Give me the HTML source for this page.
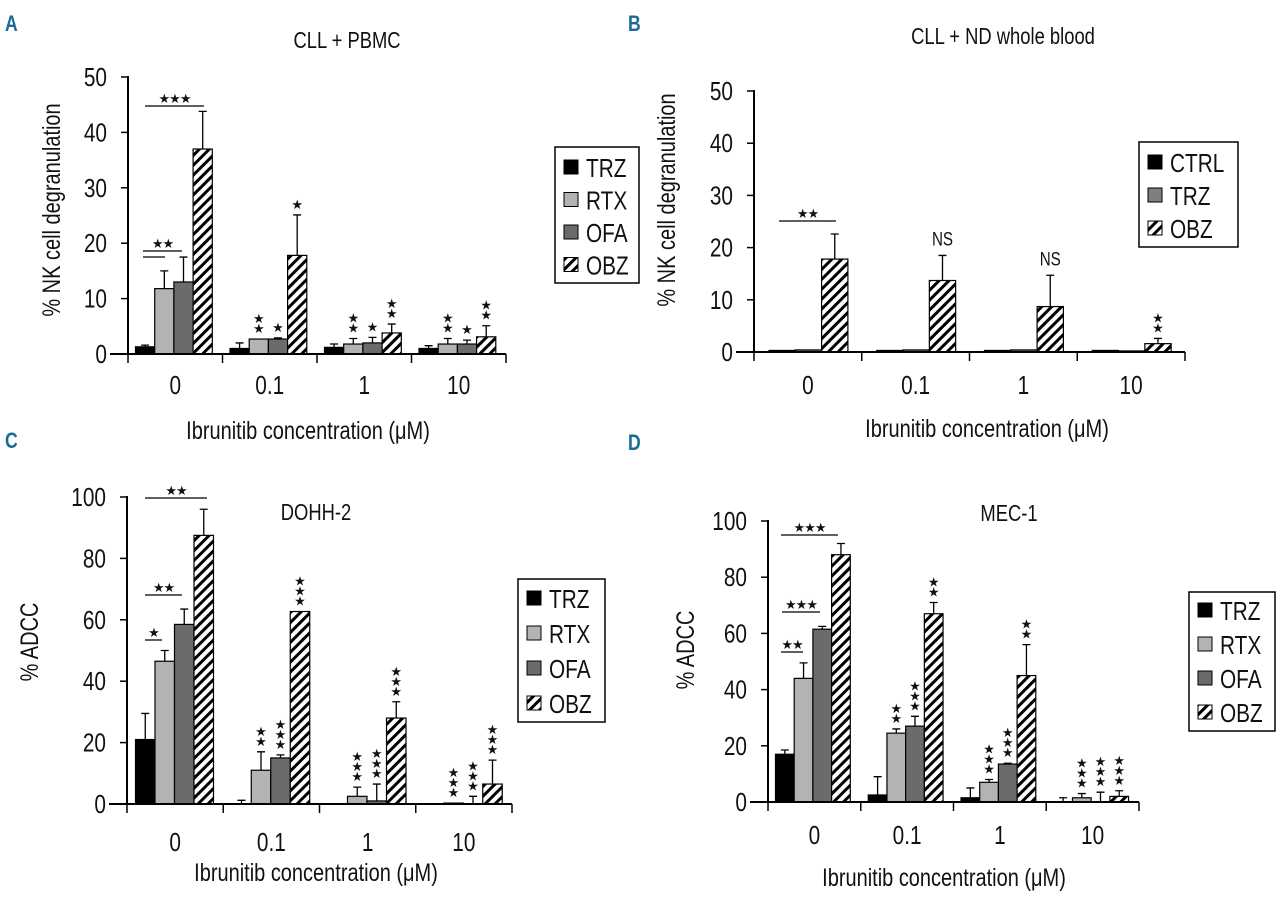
<!DOCTYPE html>
<html><head><meta charset="utf-8">
<style>
html,body{margin:0;padding:0;background:#fff;}
body{width:1280px;height:896px;position:relative;overflow:hidden;font-family:"Liberation Sans",sans-serif;}
svg text{font-family:"Liberation Sans",sans-serif;fill:#111;}
.pl{font-weight:bold;fill:#1a6b93 !important;font-size:22px;}
</style></head><body>
<svg id="fig" width="1280" height="896" viewBox="0 0 1280 896" xmlns="http://www.w3.org/2000/svg">
<defs>
<pattern id="hatch" patternUnits="userSpaceOnUse" width="7" height="7" patternTransform="rotate(45)">
<rect width="7" height="7" fill="#fff"/><rect x="0" y="0" width="3" height="7" fill="#000"/>
</pattern>
</defs>
<text class="pl" transform="translate(5,31) scale(0.8,1)">A</text>
<text class="pl" transform="translate(628,31) scale(0.8,1)">B</text>
<text class="pl" transform="translate(5,448) scale(0.8,1)">C</text>
<text class="pl" transform="translate(628,450) scale(0.8,1)">D</text>
</svg>
<script>
const cats=['0','0.1','1','10'];
// Panel A (CLL + PBMC)
const seriesA=['TRZ','RTX','OFA','OBZ'];
const aTRZ=[1.3,1.0,1.2,1.0];
const aRTX=[11.8,2.7,1.8,1.8];
const aOFA=[13.0,2.7,2.0,1.8];
const aOBZ=[37.0,17.8,3.8,3.1];
const aErr=[[0.3,1.0,0.6,0.5],[3.2,0,1.0,1.0],[4.5,0.2,1.0,0.7],[6.8,7.3,1.6,2.0]];
const aStars=[[0,0,0,0],[0,2,1,1],[0,2,1,2],[0,2,1,2]];
const aTicks=[0,10,20,30,40,50];
// Panel B (CLL + ND whole blood)
const seriesB=['CTRL','TRZ','OBZ'];
const bCTRL=[0.3,0.3,0.3,0.3];
const bTRZ=[0.4,0.4,0.4,0.2];
const bOBZ=[17.8,13.7,8.7,1.6];
const bErr=[[0,0,0,0],[0,0,0,0],[4.8,4.8,6.0,1.0]];
const bStars=[[0,0,0],[0,0,0],[0,0,0],[0,0,2]];
const bNS=['','NS','NS',''];
const bTicks=[0,10,20,30,40,50];
// Panel C (DOHH-2)
const cTRZ=[21,0,0,0];
const cRTX=[46.5,11,2.5,0.3];
const cOFA=[58.5,15,1,0];
const cOBZ=[87.5,62.7,28,6.5];
const cErr=[[8.5,1.2,0,0],[3.5,6,3,0],[5,1,5.5,2.5],[8.5,0,5.3,7.8]];
const cStars=[[0,0,0,0],[0,2,3,3],[0,3,3,3],[0,3,3,3]];
const cTicks=[0,20,40,60,80,100];
// Panel D (MEC-1)
const dTRZ=[17,2.5,1.5,0];
const dRTX=[44,24.5,7,1.5];
const dOFA=[61.5,27,13.5,0];
const dOBZ=[88,67,45,2];
const dErr=[[1.5,6.5,3.5,1.5],[5.5,1.5,1,1.5],[1,3.5,0.3,3.5],[4,4,11,2]];
const dStars=[[0,0,0,0],[0,2,3,2],[0,3,3,2],[0,3,3,3]];
const dTicks=[0,20,40,60,80,100];

const NS='http://www.w3.org/2000/svg';
const svg=document.getElementById('fig');
function mk(tag,attrs,parent){const e=document.createElementNS(NS,tag);for(const k in attrs)e.setAttribute(k,attrs[k]);(parent||svg).appendChild(e);return e;}
function T(parent,x,y,str,size,anchor,rot){
  const t=mk('text',{x:0,y:0,'text-anchor':anchor||'start','font-size':size,transform:`translate(${x},${y})${rot?' rotate(-90)':''} scale(0.8,1)`},parent);
  t.textContent=str;return t;
}
function fillFor(name,panelB){
  if(name==='OBZ')return 'url(#hatch)';
  if(name==='TRZ')return panelB?'#7f7f7f':'#000';
  if(name==='CTRL')return '#000';
  if(name==='RTX')return '#b3b3b3';
  return '#6b6b6b';
}
function drawPanel(P,series,vals,errs,stars,ticks){
  const g=mk('g',{});
  
  
  const ymax=ticks[ticks.length-1];
  const Y=v=>P.y0+(P.y1-P.y0)*(v/ymax);
  const gw=(P.x1-P.xa)/cats.length;
  const X=(gi,si)=>P.xa+gi*gw+P.off+si*P.bw;
  const t=T(g,P.tx,P.ty,P.title,23,'middle');
  
  vals.forEach((arr,si)=>{arr.forEach((v,gi)=>{
    const x=X(gi,si),y=Y(v),h=P.y0-y;
    if(v>0){const r=mk('rect',{x:x,y:y,width:P.bw,height:Math.max(h,0.5),fill:fillFor(series[si],P.isB),stroke:'#000','stroke-width':1.2},g);
      }
    const e=errs[si][gi];
    if(e>0){const cx=x+P.bw/2,ty=Y(v+e);
      const l=mk('path',{d:`M${cx},${y} V${ty} M${cx-4},${ty} H${cx+4}`,stroke:'#000','stroke-width':1.3,fill:'none'},g);
      }
    const n=stars[gi][si];
    for(let k=0;k<n;k++){const s=mk('text',{x:x+P.bw/2,y:Y(v+e)-6-k*10,'text-anchor':'middle','font-size':13,'font-family':'DejaVu Sans'},g);s.textContent='★';
      }
  });});
  const ax=mk('path',{d:`M${P.xa},${P.y1-1} V${P.y0} M${P.xa-18},${P.y0} H${P.x1}`,stroke:'#000','stroke-width':2,fill:'none'},g);
  
  ticks.forEach(tv=>{const y=Y(tv);mk('path',{d:`M${P.xa-7},${y} H${P.xa}`,stroke:'#000','stroke-width':1.5},g);
    const tl=T(g,P.xa-21,y+9,String(tv),26,'end');
    });
  for(let i=0;i<=cats.length;i++){const x=P.xa+i*gw;mk('path',{d:`M${x},${P.y0} V${P.y0+9}`,stroke:'#000','stroke-width':1.5},g);}
  cats.forEach((c,i)=>{const tl=T(g,P.xa+(i+0.5)*gw,P.xly,c,26,'middle');
    });
  const xt=T(g,P.xtx,P.xty,'Ibrunitib concentration (\u03bcM)',25,'middle');
  
  const yt=T(g,P.ytx,P.yty,P.ytitle,25,'middle',true);
  
  const lg=mk('g',{},g);
  mk('rect',{x:P.lx,y:P.ly,width:P.lw,height:P.lh,fill:'#fff',stroke:'#000','stroke-width':1.5},lg);
  series.forEach((s,i)=>{const cy=P.ly+P.lpad+i*P.lstep;
    const sw=mk('rect',{x:P.lx+9,y:cy-7,width:14,height:14,fill:fillFor(s,P.isB),stroke:'#000','stroke-width':1},lg);
    
    const lt=T(lg,P.lx+31,cy+10,s,26,'start');
    });
  (P.brackets||[]).forEach(b=>{mk('path',{d:`M${b[0]},${b[2]} H${b[1]}`,stroke:'#000','stroke-width':1.3},g);
    if(b[3]){const s=mk('text',{x:(b[0]+b[1])/2,y:b[2]-3,'text-anchor':'middle','font-size':13,'font-family':'DejaVu Sans','letter-spacing':-1},g);s.textContent=b[3];
      }});
  return {X,Y,gw};
}
const stA='★★★',stB='★★',st1='★';
drawPanel({id:'panel-a-chart',xa:128,x1:506,y0:354,y1:77,off:7.5,bw:19.2,title:'CLL + PBMC',tx:347,ty:48,xly:394,xtx:308,xty:439,ytx:60,yty:210,ytitle:'% NK cell degranulation',
  lx:555,ly:147,lw:84,lh:136,lpad:20,lstep:32.5,
  brackets:[[145,204,106,stA],[143,182,251,stB],[143,165,257,'']]},seriesA,[aTRZ,aRTX,aOFA,aOBZ],aErr,aStars,aTicks);
const pb=drawPanel({id:'panel-b-chart',isB:true,xa:754,x1:1185,y0:352,y1:91,off:15,bw:26.3,title:'CLL + ND whole blood',tx:1003,ty:44,xly:394,xtx:987,xty:437,ytx:675,yty:200,ytitle:'% NK cell degranulation',
  lx:1139,ly:142,lw:99,lh:105,lpad:20,lstep:33,
  brackets:[[779,836,221,stB]]},seriesB,[bCTRL,bTRZ,bOBZ],bErr,bStars,bTicks);
bNS.forEach((s,gi)=>{if(!s)return;const x=pb.X(gi,2)+26.3/2;
  const t=T(svg,x,pb.Y(bOBZ[gi]+bErr[2][gi])-10,s,19,'middle');
  });
drawPanel({id:'panel-c-chart',xa:127,x1:512,y0:804,y1:497,off:8.5,bw:19.5,title:'DOHH-2',tx:316,ty:520,xly:851,xtx:316,xty:881,ytx:38,yty:642,ytitle:'% ADCC',
  lx:518,ly:579,lw:87,lh:143,lpad:19,lstep:35,
  brackets:[[145,207,498,stB],[145,182,595,stB],[145,162,640,st1]]},seriesA,[cTRZ,cRTX,cOFA,cOBZ],cErr,cStars,cTicks);
drawPanel({id:'panel-d-chart',xa:768,x1:1139,y0:802,y1:521,off:7.5,bw:18.7,title:'MEC-1',tx:1009,ty:521,xly:844,xtx:944,xty:886,ytx:694,yty:650,ytitle:'% ADCC',
  lx:1189,ly:592,lw:86,lh:139,lpad:18,lstep:34,
  brackets:[[781,838,535,stA],[782,820,612,stA],[781,803,652,stB]]},seriesA,[dTRZ,dRTX,dOFA,dOBZ],dErr,dStars,dTicks);
</script>
</body></html>
